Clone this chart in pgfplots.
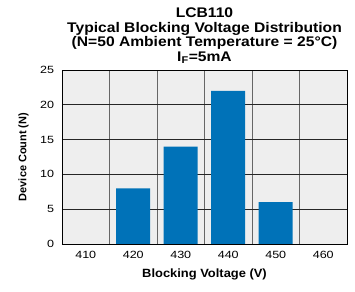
\documentclass[border=0pt]{standalone}
\usepackage{pgfplots}
\pgfplotsset{compat=1.18}
\usepackage{fontspec}
\setmainfont{Liberation Sans}
\definecolor{barblue}{HTML}{0072B8}
\definecolor{bg}{HTML}{EEEEEE}
\begin{document}
\begin{tikzpicture}
\begin{axis}[
  name=ax,
  scale only axis,
  width=285bp, height=174bp,
  xmin=-0.5, xmax=5.5, ymin=0, ymax=25,
  xtick={0,1,2,3,4,5},
  xticklabels={410,420,430,440,450,460},
  minor xtick={0.5,1.5,2.5,3.5,4.5},
  ytick={0,5,10,15,20,25},
  ymajorgrids, xminorgrids,
  major grid style={black!85, line width=0.6pt},
  minor grid style={black!60, line width=0.6pt},
  major tick length=0pt, minor tick length=0pt,
  axis line style={black, line width=0.8pt},
  axis background/.style={fill=bg},
  /pgf/number format/assume math mode=true,
  tick label style={font=\fontsize{10.5}{12}\selectfont, xscale=1.2},
  xticklabel style={yshift=-4bp},
  yticklabel style={xshift=-3bp},
  xlabel={\textbf{Blocking Voltage (V)}},
  ylabel={\textbf{Device Count (N)}},
  xlabel style={font=\fontsize{12}{13}\selectfont, xscale=1.08, yshift=-3bp},
  ylabel style={font=\fontsize{11}{12}\selectfont, yshift=4bp},
  title={\textbf{LCB110}\\\textbf{Typical Blocking Voltage Distribution}\\\textbf{(N=50 Ambient Temperature = 25°C)}\\\textbf{I\textsubscript{F}=5mA}},
  title style={font=\fontsize{14}{14.7}\selectfont, align=center, xscale=1.12, yshift=-3bp},
]
\addplot[ybar, bar width=34bp, fill=barblue, draw=none] coordinates {
  (1,8) (2,14) (3,22) (4,6)
};
\end{axis}
\pgfresetboundingbox
\path ([xshift=-62bp,yshift=-48bp]ax.south west) rectangle ([xshift=8bp,yshift=70bp]ax.north east);
\end{tikzpicture}
\end{document}
